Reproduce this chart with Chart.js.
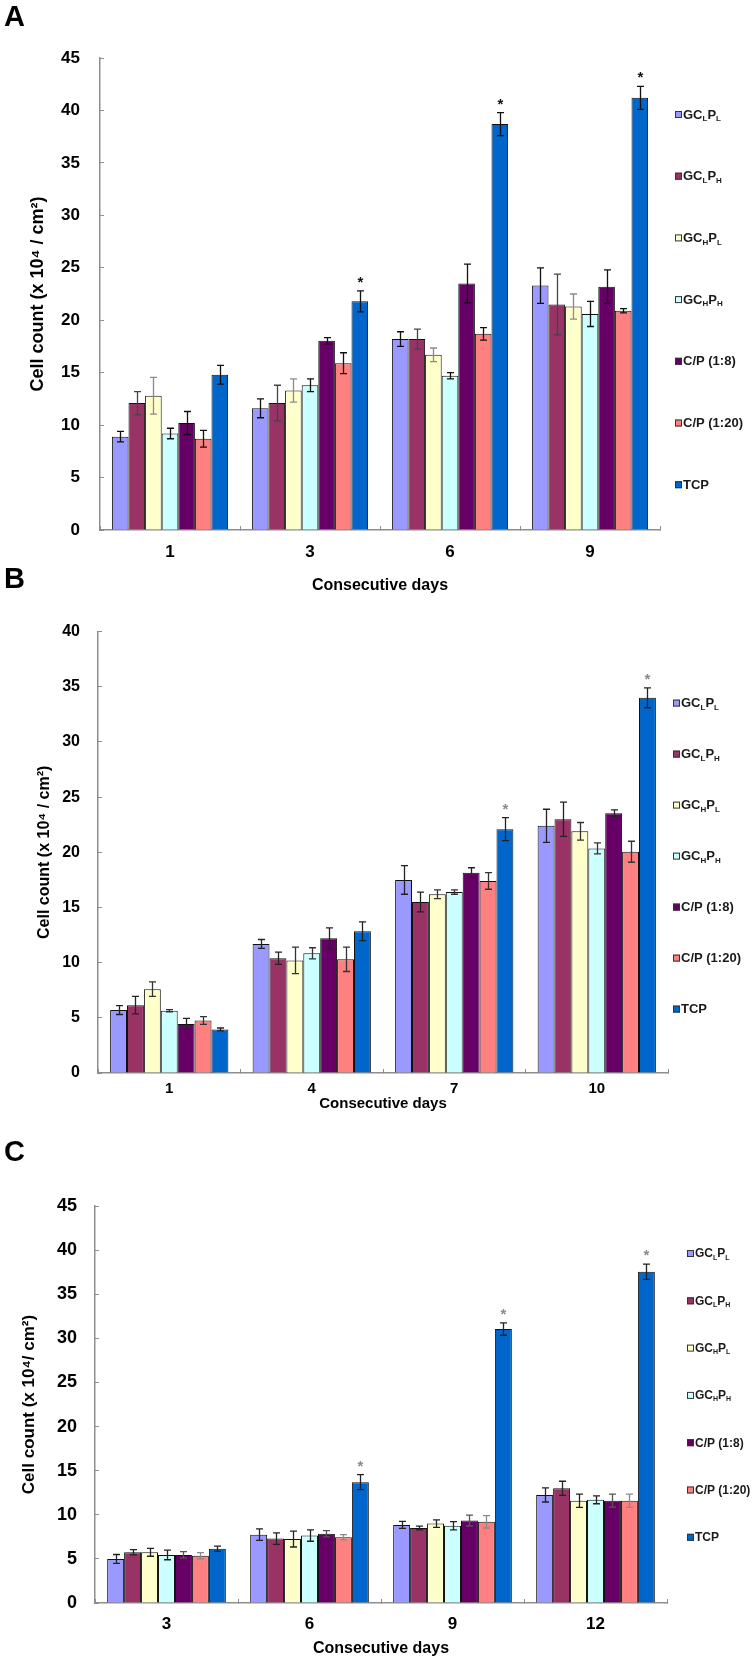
<!DOCTYPE html>
<html>
<head>
<meta charset="utf-8">
<script src="https://cdn.jsdelivr.net/npm/chart.js@4.4.1/dist/chart.umd.min.js"></script>
<style>
  body { margin: 0; background: #fff; width: 754px; height: 1664px; position: relative; overflow: hidden;
         font-family: 'Liberation Sans', Arial, sans-serif; }
  canvas { position: absolute; left: 0; }
  .letter { position: absolute; left: 4px; font-weight: bold; font-size: 29px; z-index: 2; }
</style>
</head>
<body>
<canvas id="chartA" style="top:0px" width="754" height="600"></canvas>
<canvas id="chartB" style="top:600px" width="754" height="520"></canvas>
<canvas id="chartC" style="top:1120px" width="754" height="544"></canvas>
<div class="letter" style="top:0px">A</div>
<div class="letter" style="top:562px">B</div>
<div class="letter" style="top:1135px">C</div>
<script>
var FONT = "'Liberation Sans', Arial, sans-serif"
var AXIS = '#8e8e8e'

// groups, "_X" = subscript X
var seriesNames = ['GC_LP_L', 'GC_LP_H', 'GC_HP_L', 'GC_HP_H', 'C/P (1:8)', 'C/P (1:20)', 'TCP']
var seriesColors = ['#9999ff', '#993366', '#ffffcc', '#ccffff', '#660066', '#ff8080', '#0066cc']

// panel A
var daysA = ['1', '3', '6', '9']
var meansA = [
  [8.9, 11.6, 18.2, 23.3],
  [12.1, 12.1, 18.2, 21.5],
  [12.8, 13.3, 16.7, 21.3],
  [9.2, 13.8, 14.7, 20.6],
  [10.2, 18.05, 23.5, 23.2],
  [8.7, 15.9, 18.7, 20.9],
  [14.8, 21.8, 38.7, 41.2]
]
var errA = [
  [0.5, 0.9, 0.7, 1.7],
  [1.1, 1.7, 0.95, 2.9],
  [1.75, 1.1, 0.65, 1.2],
  [0.5, 0.6, 0.3, 1.2],
  [1.1, 0.3, 1.85, 1.6],
  [0.8, 1.0, 0.6, 0.2],
  [0.9, 1.0, 1.1, 1.1]
]
var starA = [false, true, true, true]

// panel B
var daysB = ['1', '4', '7', '10']
var meansB = [
  [5.7, 11.7, 17.5, 22.4],
  [6.15, 10.4, 15.5, 23.0],
  [7.6, 10.2, 16.2, 21.9],
  [5.65, 10.85, 16.4, 20.35],
  [4.45, 12.2, 18.15, 23.55],
  [4.75, 10.3, 17.4, 20.05],
  [3.95, 12.85, 22.1, 34.0]
]
var errB = [
  [0.4, 0.4, 1.3, 1.5],
  [0.8, 0.55, 0.9, 1.55],
  [0.65, 1.2, 0.4, 0.8],
  [0.1, 0.5, 0.2, 0.5],
  [0.5, 0.95, 0.45, 0.3],
  [0.35, 1.1, 0.75, 0.95],
  [0.13, 0.85, 1.05, 0.9]
]
var starB = [false, false, true, true]

// panel C
var daysC = ['3', '6', '9', '12']
var meansC = [
  [5.0, 7.75, 8.85, 12.25],
  [5.75, 7.3, 8.5, 13.0],
  [5.75, 7.25, 9.0, 11.6],
  [5.45, 7.65, 8.75, 11.7],
  [5.45, 7.85, 9.35, 11.6],
  [5.35, 7.45, 9.2, 11.6],
  [6.15, 13.7, 31.05, 37.55]
]
var errC = [
  [0.5, 0.65, 0.4, 0.8],
  [0.3, 0.65, 0.22, 0.8],
  [0.45, 0.9, 0.42, 0.75],
  [0.55, 0.65, 0.47, 0.45],
  [0.37, 0.35, 0.62, 0.73],
  [0.35, 0.3, 0.7, 0.75],
  [0.3, 0.85, 0.7, 0.87]
]
var starC = [false, true, true, true]

// text with subscripts
function drawSubText(ctx, text, x, y, size) {
  var parts = text.split('_')
  ctx.font = 'bold ' + size + 'px ' + FONT
  ctx.fillText(parts[0], x, y)
  x += ctx.measureText(parts[0]).width
  for (var k = 1; k < parts.length; k++) {
    var sub = parts[k].charAt(0), rest = parts[k].slice(1)
    ctx.font = 'bold ' + Math.round(size * 0.6) + 'px ' + FONT
    ctx.fillText(sub, x, y + size * 0.3)
    x += ctx.measureText(sub).width
    ctx.font = 'bold ' + size + 'px ' + FONT
    ctx.fillText(rest, x, y)
    x += ctx.measureText(rest).width
  }
}

var sideLegend = {
  id: 'sideLegend',
  afterDraw: function (chart, args, opts) {
    var ctx = chart.ctx, area = chart.chartArea
    ctx.save()
    ctx.textBaseline = 'middle'
    chart.data.datasets.forEach(function (ds, i) {
      var x = area.right + opts.dx, y = area.top + opts.top + i * opts.gap
      ctx.fillStyle = ds.backgroundColor
      ctx.fillRect(x, y - 4, 7, 7)
      ctx.strokeStyle = '#333'
      ctx.lineWidth = 1
      ctx.strokeRect(x + 0.5, y - 3.5, 6, 6)
      ctx.fillStyle = '#1a1a1a'
      drawSubText(ctx, ds.label, x + 8, y, opts.size)
    })
    ctx.restore()
  }
}

// mean +- sd whiskers, plus the * over TCP
var errorBars = {
  id: 'errorBars',
  afterDatasetsDraw: function (chart, args, opts) {
    var ctx = chart.ctx, yScale = chart.scales.y
    ctx.save()
    chart.data.datasets.forEach(function (ds, i) {
      var meta = chart.getDatasetMeta(i)
      meta.data.forEach(function (bar, j) {
        var v = ds.data[j], e = ds.errors[j]
        var top = yScale.getPixelForValue(v + e), bot = yScale.getPixelForValue(v - e)
        var x = Math.round(bar.x) + 0.5
        ctx.strokeStyle = ds.errColor
        ctx.lineWidth = 1.3
        ctx.beginPath()
        ctx.moveTo(x, top); ctx.lineTo(x, bot)
        ctx.moveTo(x - 3.5, top); ctx.lineTo(x + 3.5, top)
        ctx.moveTo(x - 3.5, bot); ctx.lineTo(x + 3.5, bot)
        ctx.stroke()
        if (i == chart.data.datasets.length - 1 && opts.stars[j]) {
          ctx.fillStyle = opts.starColor
          ctx.font = 'bold 15px ' + FONT
          ctx.textAlign = 'center'
          ctx.textBaseline = 'middle'
          ctx.fillText('*', x, top - 8)
        }
      })
    })
    ctx.restore()
  }
}

function buildChart(id, p) {
  var datasets = seriesNames.map(function (name, i) {
    return {
      label: name,
      data: p.means[i],
      errors: p.errs[i],
      errColor: p.errColors[i],
      backgroundColor: seriesColors[i],
      borderColor: '#111',
      borderWidth: 1,
      categoryPercentage: 0.83,
      barPercentage: 1.0
    }
  })
  return new Chart(document.getElementById(id), {
    type: 'bar',
    data: { labels: p.days, datasets: datasets },
    options: {
      responsive: false,
      animation: false,
      layout: { padding: { top: p.padTop, right: p.padRight, left: 0, bottom: 0 } },
      plugins: {
        legend: { display: false },
        tooltip: { enabled: false },
        sideLegend: { dx: p.legendDx, top: p.legendTop, gap: p.legendGap, size: p.legendFont },
        errorBars: { stars: p.stars, starColor: p.starColor }
      },
      scales: {
        x: {
          ticks: { color: '#000', padding: p.xTickPad, font: { family: FONT, size: p.xFont, weight: 'bold' } },
          grid: { display: true, drawOnChartArea: false, tickLength: -4, color: AXIS, offset: true },
          border: { color: AXIS, width: 1.5 },
          title: { display: true, text: 'Consecutive days', color: '#000',
                   font: { family: FONT, size: p.titleFont, weight: 'bold' }, padding: { top: 0, bottom: p.xTitlePad } },
          afterFit: function (s) { s.height = p.xHeight }
        },
        y: {
          min: 0, max: p.yMax,
          ticks: { stepSize: 5, color: '#000', padding: p.yTickPad, font: { family: FONT, size: p.yFont, weight: 'bold' } },
          grid: { display: true, drawOnChartArea: false, tickLength: -4, color: AXIS },
          border: { color: AXIS, width: 1.5 },
          title: { display: true, text: p.yTitle, color: '#000',
                   font: { family: FONT, size: p.yTitleFont, weight: 'bold' }, padding: { top: p.yTitlePad, bottom: 0 } },
          afterFit: function (s) { s.width = p.yWidth }
        }
      }
    },
    plugins: [sideLegend, errorBars]
  })
}

buildChart('chartA', {
  days: daysA, means: meansA, errs: errA, stars: starA, starColor: '#111',
  errColors: ['#111', '#444', '#8a8a8a', '#111', '#111', '#111', '#111'],
  yMax: 45, yTitle: 'Cell count (x 10\u2074 / cm\u00b2)',
  padTop: 58, padRight: 94, yWidth: 100, xHeight: 70,
  yTickPad: 24, xTickPad: 16, yTitlePad: 27, xTitlePad: 5,
  yFont: 17, xFont: 17, titleFont: 16, yTitleFont: 18,
  legendDx: 15, legendTop: 57, legendGap: 61.7, legendFont: 13
})

buildChart('chartB', {
  days: daysB, means: meansB, errs: errB, stars: starB, starColor: '#8a8a8a',
  errColors: ['#222', '#222', '#333', '#333', '#222', '#333', '#222'],
  yMax: 40, yTitle: 'Cell count (x 10\u2074 / cm\u00b2)',
  padTop: 25, padRight: 86, yWidth: 98, xHeight: 47,
  yTickPad: 22, xTickPad: 11, yTitlePad: 35, xTitlePad: 7,
  yFont: 16, xFont: 15, titleFont: 15, yTitleFont: 16,
  legendDx: 5, legendTop: 72, legendGap: 51, legendFont: 13
})

buildChart('chartC', {
  days: daysC, means: meansC, errs: errC, stars: starC, starColor: '#8a8a8a',
  errColors: ['#222', '#222', '#222', '#222', '#555', '#8a8a8a', '#222'],
  yMax: 45, yTitle: 'Cell count (x 10\u2074/ cm\u00b2)',
  padTop: 86, padRight: 87, yWidth: 95, xHeight: 61,
  yTickPad: 22, xTickPad: 15, yTitlePad: 19, xTitlePad: 6,
  yFont: 18, xFont: 17, titleFont: 16, yTitleFont: 17,
  legendDx: 20, legendTop: 48, legendGap: 47.3, legendFont: 12
})
</script>
</body>
</html>
